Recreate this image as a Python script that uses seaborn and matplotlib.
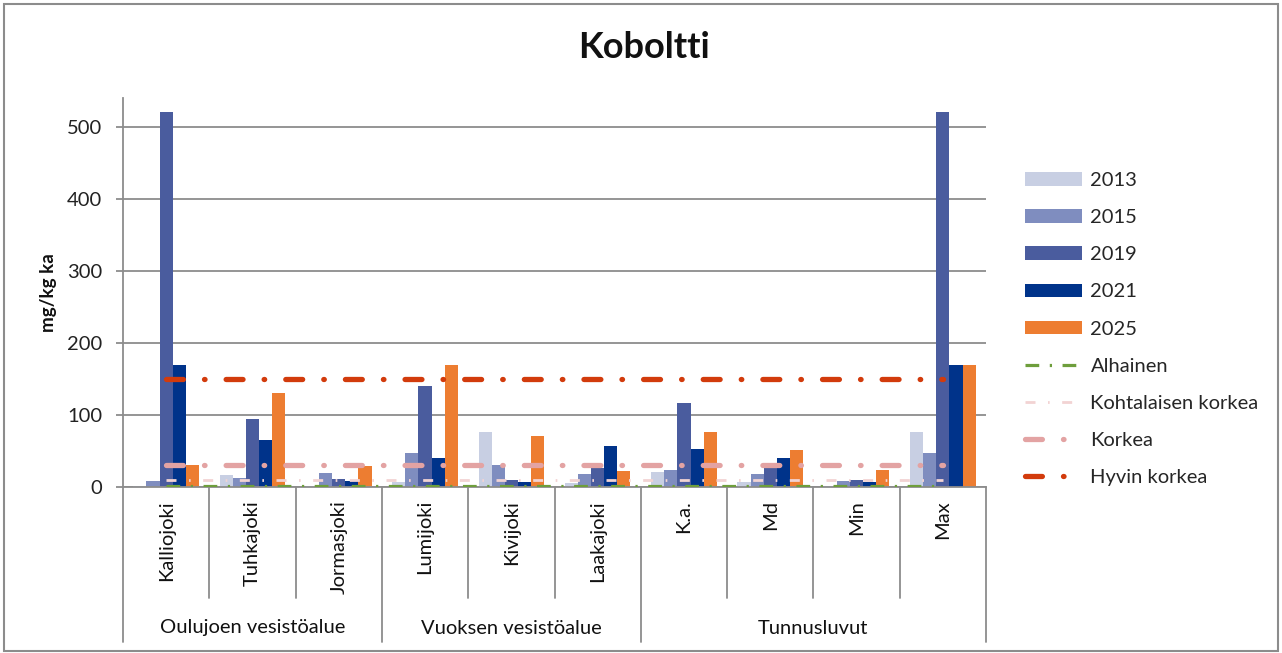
import numpy as np
import pandas as pd
import matplotlib.pyplot as plt
import seaborn as sns
from matplotlib.patches import Rectangle
from matplotlib.lines import Line2D
from matplotlib.transforms import blended_transform_factory

sns.set_theme(style="white")
plt.rcParams["font.family"] = ["Lato", "DejaVu Sans"]

# ---- data ----
places = ["Kalliojoki", "Tuhkajoki", "Jormasjoki", "Lumijoki", "Kivijoki",
          "Laakajoki", "K.a.", "Md", "Min", "Max"]
areas = ["Oulujoen vesistöalue", "Vuoksen vesistöalue", "Tunnusluvut"]
area_sizes = [3, 3, 4]
years = ["2013", "2015", "2019", "2021", "2025"]

v2013 = [1, 17, 2, 7, 77, 6, 21, 7, 2, 77]
v2015 = [8, 12, 19, 47, 30, 18, 24, 18, 8, 47]
v2019 = [520, 94, 11, 140, 10, 26, 116, 26, 10, 520]
v2021 = [170, 65, 8, 40, 7, 57, 53, 40, 7, 170]
v2025 = [30, 130, 29, 170, 71, 22, 76, 52, 23, 170]

limit_names = ["Alhainen", "Kohtalaisen korkea", "Korkea", "Hyvin korkea"]
limit_values = [2, 10, 30, 150]

bar_colors = ["#C8CFE3", "#7F8DBF", "#4A5C9E", "#00338A", "#ED7D31"]
limit_styles = [
    dict(color="#6E9E3C", lw=2.3, ls=(0, (4.3, 3.3, 0.7, 3.3))),
    dict(color="#F2D3D3", lw=2.0, ls=(0, (3.6, 4.5, 0.6, 4.5))),
    dict(color="#E3A3A3", lw=3.8, ls=(0, (3.2, 4.0, 0.1, 4.0)), dash_capstyle="round"),
    dict(color="#D23B0C", lw=3.8, ls=(0, (3.2, 4.0, 0.1, 4.0)), dash_capstyle="round"),
]
grey = "#8C8C8C"
fs = 14.5

df = pd.DataFrame({
    "paikka": places * len(years),
    "vuosi": np.repeat(years, len(places)),
    "arvo": v2013 + v2015 + v2019 + v2021 + v2025,
})

W, H = 1282, 653
fig = plt.figure(figsize=(W / 100, H / 100), dpi=100)
ax = fig.add_axes([123 / W, (H - 487) / H, 863 / W, 389 / H])

sns.barplot(data=df, x="paikka", y="arvo", hue="vuosi", order=places,
            hue_order=years, palette=bar_colors, saturation=1, width=0.76,
            linewidth=0, edgecolor="none", ax=ax, zorder=2)

xs = np.arange(len(places))
for name, val, st in zip(limit_names, limit_values, limit_styles):
    ax.plot(xs, np.full(len(xs), val), label=name, zorder=3,
            solid_capstyle="butt", **st)

ax.set_ylim(0, 540)
ax.set_xlim(-0.5, len(places) - 0.5)
ax.set_yticks([0, 100, 200, 300, 400, 500])
ax.yaxis.grid(True, color=grey, lw=1.3, zorder=0)
ax.set_axisbelow(True)
for s in ["top", "right"]:
    ax.spines[s].set_visible(False)
for s in ["left", "bottom"]:
    ax.spines[s].set_color(grey)
    ax.spines[s].set_linewidth(1.3)
ax.tick_params(axis="y", left=True, direction="out", length=5, width=1.3,
               color=grey, pad=10, labelsize=fs, labelcolor="#222222")
ax.tick_params(axis="x", bottom=False, labelbottom=False)
ax.set_xlabel("")
ax.set_ylabel("mg/kg ka", fontsize=13.5, fontweight="bold", color="#111111")
ax.yaxis.set_label_coords(-0.076, 0.5)

# multi-level category axis
tr = blended_transform_factory(ax.transData, fig.transFigure)
fy = lambda py: (H - py) / H
for i, p in enumerate(places):
    ax.text(i, fy(500), p, rotation=90, ha="center", va="top",
            fontsize=fs, color="#111111", transform=tr)
bounds = np.cumsum([0] + area_sizes) - 0.5
for b in np.arange(-0.5, len(places), 1.0):
    bottom = 642 if np.isclose(bounds, b).any() else 598
    ax.add_line(Line2D([b, b], [fy(487), fy(bottom)], transform=tr,
                       color=grey, lw=1.3, clip_on=False))
for a, lo, hi in zip(areas, bounds[:-1], bounds[1:]):
    ax.text((lo + hi) / 2, fy(628), a, ha="center", va="center",
            fontsize=fs, color="#111111", transform=tr)

handles, labels = ax.get_legend_handles_labels()
ax.legend(handles, labels, loc="upper left", bbox_to_anchor=(1025 / W, fy(172)),
          bbox_transform=fig.transFigure, frameon=False, fontsize=fs,
          handlelength=2.85, handleheight=0.65, handletextpad=0.4,
          labelspacing=1.0, borderpad=0, borderaxespad=0)

fig.text(644 / W, fy(47), "Koboltti", ha="center", va="center",
         fontsize=26, fontweight="bold", color="#111111")
fig.add_artist(Rectangle((4 / W, 2 / H), 1274 / W, 647 / H, transform=fig.transFigure,
                         fill=False, edgecolor=grey, lw=1.5))

fig.savefig("out.png", dpi=100)
